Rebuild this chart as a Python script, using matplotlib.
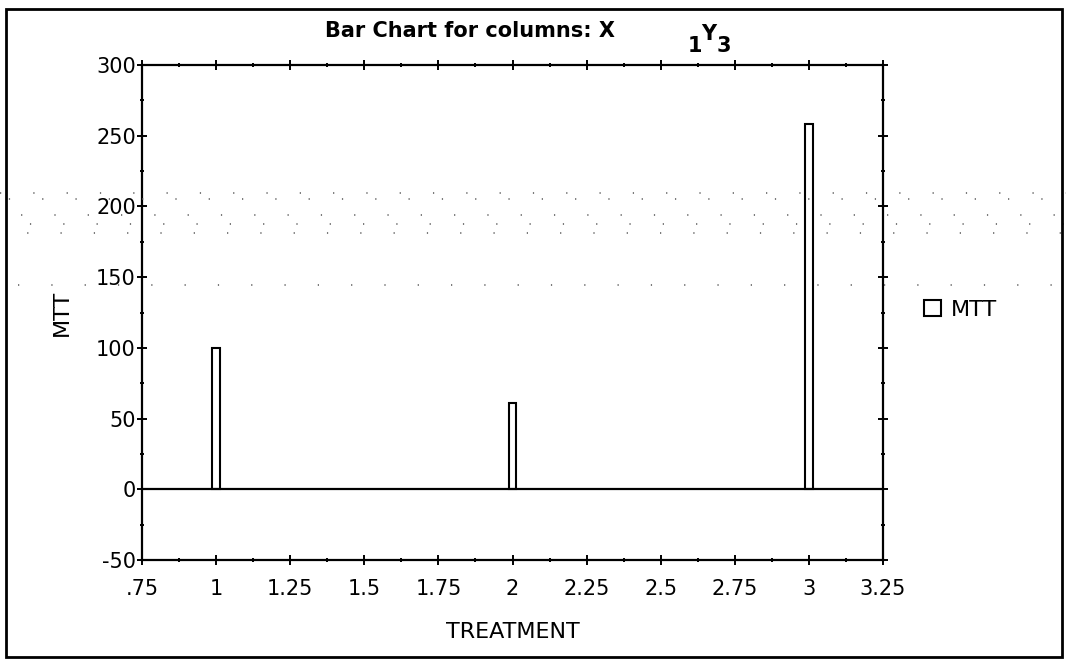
import matplotlib
matplotlib.use("Agg")
import matplotlib.pyplot as plt
from matplotlib.lines import Line2D
from matplotlib.patches import Rectangle
from matplotlib.ticker import MultipleLocator, FixedLocator

# Data
treatment = [1, 2, 3]
mtt = [100, 61, 258]
series_name = "MTT"
x_ticks = [0.75, 1, 1.25, 1.5, 1.75, 2, 2.25, 2.5, 2.75, 3, 3.25]
x_tick_labels = [".75", "1", "1.25", "1.5", "1.75", "2", "2.25", "2.5", "2.75", "3", "3.25"]
y_ticks = [-50, 0, 50, 100, 150, 200, 250, 300]
y_tick_labels = ["-50", "0", "50", "100", "150", "200", "250", "300"]

plt.rcParams["font.family"] = ["DejaVu Sans"]
plt.rcParams["axes.unicode_minus"] = False

W, H = 1066, 660
fig = plt.figure(figsize=(W / 100, H / 100), dpi=100)
fig.patch.set_facecolor("white")

def fx(px):
    return px / W

def fy(py):
    return 1 - py / H

# axes box in pixels: left 142, right 883, top 65, bottom 560
ax = fig.add_axes([fx(142), fy(560), fx(883) - fx(142), fy(65) - fy(560)])
ax.set_xlim(0.75, 3.25)
ax.set_ylim(-50, 300)

bars = ax.bar(treatment, mtt, width=0.025, bottom=0, facecolor="white",
              edgecolor="black", linewidth=1.5, zorder=2, label=series_name)
ax.axhline(0, color="black", linewidth=1.6, zorder=3)

for s in ax.spines.values():
    s.set_linewidth(1.6)

ax.xaxis.set_major_locator(FixedLocator(x_ticks))
ax.set_xticklabels(x_tick_labels)
ax.xaxis.set_minor_locator(MultipleLocator(0.125))
ax.yaxis.set_major_locator(FixedLocator(y_ticks))
ax.set_yticklabels(y_tick_labels)
ax.yaxis.set_minor_locator(MultipleLocator(25))

ax.tick_params(which="major", direction="inout", length=7, width=1.4,
               top=True, right=True, labelsize=15, colors="black")
ax.tick_params(which="minor", direction="inout", length=2.5, width=1.4,
               top=True, right=True)
ax.tick_params(axis="x", which="major", pad=10)
ax.tick_params(axis="y", which="major", pad=1)

ax.set_xlabel("TREATMENT", fontsize=16)
ax.xaxis.set_label_coords(0.5, -0.125)
ax.set_ylabel("MTT", fontsize=16)
ax.yaxis.set_label_coords(-0.094, 0.5)

ax.legend(handles=[bars], labels=[series_name], loc="center left",
          bbox_to_anchor=(1.056, 0.505), frameon=False, fontsize=16,
          handlelength=0.75, handleheight=0.75, handletextpad=0.45,
          borderpad=0, borderaxespad=0)

# Title pieces
fig.text(fx(325), fy(37), "Bar Chart for columns: X", fontsize=15,
         fontweight="bold", ha="left", va="baseline")
fig.text(fx(688), fy(52), "1", fontsize=15, fontweight="bold",
         ha="left", va="baseline")
fig.text(fx(701), fy(40), "Y", fontsize=15, fontweight="bold",
         ha="left", va="baseline")
fig.text(fx(717), fy(52), "3", fontsize=15, fontweight="bold",
         ha="left", va="baseline")

# Dotted speckle rows across the page
for ypx, off in [(193, 0), (199, 16), (215, 8), (224, 24), (233, 4), (285, 10)]:
    fig.add_artist(Line2D([0, 1], [fy(ypx), fy(ypx)], transform=fig.transFigure,
                          color="#555555", linewidth=1.1,
                          linestyle=(off, (0.8, 21.0)), zorder=0.5))

# Page frame
fig.add_artist(Rectangle((fx(6), fy(657)), fx(1062) - fx(6), fy(9) - fy(657),
                         transform=fig.transFigure, fill=False,
                         edgecolor="black", linewidth=2.0))

fig.savefig("out.png", dpi=100)
